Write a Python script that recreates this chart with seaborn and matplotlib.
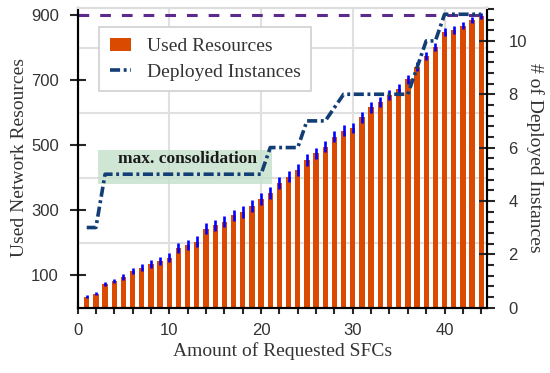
import matplotlib
matplotlib.use('Agg')
import matplotlib.pyplot as plt
import seaborn as sns
from matplotlib.ticker import MultipleLocator, FixedLocator
from matplotlib.patches import Patch, Rectangle
from matplotlib.lines import Line2D

# data
sfc = list(range(1, 45))
used = [33, 42, 72, 82, 94, 113, 122, 134, 143, 153, 183, 192, 203, 243, 253,
        264, 284, 294, 313, 333, 353, 383, 403, 423, 454, 474, 495, 526, 544, 553,
        585, 616, 633, 654, 674, 703, 741, 774, 802, 847, 854, 867, 885, 897]
used_err = [4, 5, 6, 7, 8, 10, 11, 12, 12, 14, 15, 16, 16, 17, 17,
            17, 17, 17, 18, 18, 18, 18, 18, 18, 18, 18, 17, 17, 17, 16,
            16, 16, 15, 15, 15, 14, 14, 13, 13, 12, 12, 11, 10, 9]
deployed = [3, 3, 5, 5, 5, 5, 5, 5, 5, 5, 5, 5, 5, 5, 5,
            5, 5, 5, 5, 5, 6, 6, 6, 6, 7, 7, 7, 7.5, 8, 8,
            8, 8, 8, 8, 8, 8, 9, 10, 10, 11, 11, 11, 11, 11]
max_resources = 900

sns.set_style('ticks')
plt.rcParams['font.family'] = ['Liberation Serif', 'DejaVu Serif']

bar_col = '#da4a00'
line_col = '#123d75'
txt_col = '#333333'
dashdot = (0, (2.8, 1.0, 0.8, 1.0))

fig = plt.figure(figsize=(5.5, 3.73), dpi=100)
ax = fig.add_axes([0.141, 0.1756, 0.744, 0.804])

sns.barplot(x=sfc, y=used, native_scale=True, color=bar_col, saturation=1,
            width=0.58, errorbar=None, linewidth=0, edgecolor='none', ax=ax)
ax.errorbar(sfc, used, yerr=used_err, fmt='none', ecolor='#0000ff',
            elinewidth=1.9, capsize=0, zorder=3)
ax.axhline(max_resources, color='#5b2a8c', lw=2.2, linestyle=(0, (3.5, 3.6)), zorder=4)

ax.set_xlim(0, 44.6)
ax.set_ylim(0, 923)
ax.xaxis.set_major_locator(MultipleLocator(10))
ax.xaxis.set_minor_locator(MultipleLocator(2))
ax.yaxis.set_major_locator(FixedLocator([100, 300, 500, 700, 900]))
ax.yaxis.set_minor_locator(FixedLocator([200, 400, 600, 800]))
ax.set_axisbelow(True)
ax.grid(which='major', axis='x', color='#e0e0e0', lw=1.5)
ax.grid(which='minor', axis='y', color='#e0e0e0', lw=1.5)

ax.tick_params(axis='x', which='major', direction='inout', length=8, width=1.5,
               pad=7, labelsize=12, labelcolor=txt_col, labelfontfamily='Liberation Sans')
ax.tick_params(axis='x', which='minor', direction='out', length=4.5, width=1.5)
ax.tick_params(axis='y', which='major', direction='inout', length=11, width=1.5,
               pad=8, labelsize=12, labelcolor=txt_col, labelfontfamily='Liberation Sans')
ax.tick_params(axis='y', which='minor', length=0)

ax.set_xlabel('Amount of Requested SFCs', fontsize=14, color=txt_col, labelpad=3)
ax.set_ylabel('Used Network Resources', fontsize=14, color=txt_col, labelpad=2)

# right axis: number of deployed instances
ax2 = ax.twinx()
sns.lineplot(x=sfc, y=deployed, ax=ax2, color=line_col, lw=2.6)
ax2.lines[0].set_linestyle(dashdot)
ax2.lines[0].set_dash_capstyle('butt')
ax2.set_ylim(0, 11.25)
ax2.yaxis.set_major_locator(MultipleLocator(2))
ax2.yaxis.set_minor_locator(MultipleLocator(0.4))
ax2.tick_params(axis='y', which='major', direction='inout', length=11, width=1.5,
                pad=10, labelsize=12, labelcolor=txt_col, labelfontfamily='Liberation Sans')
ax2.tick_params(axis='y', which='minor', direction='out', length=5, width=1.5)
ax2.set_ylabel('# of Deployed Instances', fontsize=14, color=txt_col,
               rotation=270, labelpad=12)

for a in (ax, ax2):
    for s in ['left', 'right', 'bottom']:
        a.spines[s].set_color('black')
        a.spines[s].set_linewidth(1.5)
    a.spines['top'].set_color('#dddddd')
    a.spines['top'].set_linewidth(1.5)

# max. consolidation annotation
ax2.add_patch(Rectangle((2.2, 4.62), 19.0, 1.27, facecolor='#c5e0cb', alpha=0.8,
                        edgecolor='none', zorder=1))
ax2.text(12.0, 5.58, 'max. consolidation', ha='center', va='center',
         fontsize=12.5, fontweight='bold', color='#1a1a1a', zorder=2)

handles = [Patch(facecolor=bar_col, edgecolor='none'),
           Line2D([], [], color=line_col, lw=2.6, linestyle=dashdot)]
leg = ax2.legend(handles, ['Used Resources', 'Deployed Instances'],
                 loc='upper left', bbox_to_anchor=(0.0525, 0.935), fontsize=14,
                 frameon=True, fancybox=False, framealpha=1, edgecolor='#d0d0d0',
                 borderpad=0.55, labelspacing=0.4, handlelength=1.1,
                 handletextpad=0.8, borderaxespad=0)
leg.get_frame().set_linewidth(1.2)
for t in leg.get_texts():
    t.set_color(txt_col)

plt.savefig('out.png', dpi=100)
